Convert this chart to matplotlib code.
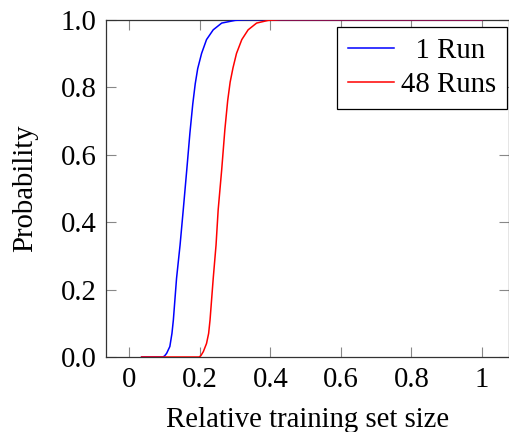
import matplotlib
matplotlib.use("Agg")
import matplotlib.pyplot as plt

plt.rcParams['font.family'] = ['Liberation Serif', 'DejaVu Serif']
FS = 20.7
plt.rcParams['font.size'] = FS

# Blue curve: 1 Run
x_one = [0.035, 0.095, 0.100, 0.106, 0.115, 0.121, 0.125, 0.134, 0.144, 0.153,
         0.163, 0.172, 0.180, 0.187, 0.194, 0.205, 0.219, 0.238, 0.262, 0.300, 0.33, 1.0]
p_one = [0.0, 0.0, 0.003, 0.011, 0.031, 0.07, 0.11, 0.233, 0.332, 0.436,
         0.555, 0.665, 0.75, 0.81, 0.855, 0.9, 0.941, 0.970, 0.990, 0.998, 1.0, 1.0]

# Red curve: 48 Runs
x_48 = [0.035, 0.198, 0.203, 0.210, 0.219, 0.225, 0.229, 0.238, 0.246, 0.252,
        0.262, 0.271, 0.279, 0.286, 0.294, 0.304, 0.319, 0.337, 0.361, 0.394, 0.43, 1.0]
p_48 = [0.0, 0.0, 0.004, 0.016, 0.04, 0.07, 0.11, 0.233, 0.332, 0.436,
        0.555, 0.674, 0.76, 0.815, 0.857, 0.9, 0.941, 0.970, 0.990, 0.998, 1.0, 1.0]

xticks = [0, 0.2, 0.4, 0.6, 0.8, 1]
xticklabels = ['0', '0.2', '0.4', '0.6', '0.8', '1']
yticks = [0.0, 0.2, 0.4, 0.6, 0.8, 1.0]
yticklabels = ['0.0', '0.2', '0.4', '0.6', '0.8', '1.0']

fig = plt.figure(figsize=(5.09, 4.32), dpi=100)
ax = fig.add_axes([106/509, 75/432, 1 - 106/509, (432 - 19.7 - 75) / 432])

ax.plot(x_one, p_one, color='#0000ff', lw=1.1, label='  1 Run', zorder=3)
ax.plot(x_48, p_48, color='#ff0000', lw=1.1, label='48 Runs', zorder=3)

ax.set_xlim(-0.066, 1.0766)
ax.set_ylim(0, 1)
ax.set_xticks(xticks)
ax.set_xticklabels(xticklabels)
ax.set_yticks(yticks)
ax.set_yticklabels(yticklabels)
ax.tick_params(direction='in', length=7, width=0.8, color='#888888',
               top=True, right=True, labelsize=FS, pad=7)
for s in ax.spines.values():
    s.set_color('#333333')
    s.set_linewidth(0.9)

ax.set_xlabel('Relative training set size', fontsize=FS, labelpad=10)
ax.set_ylabel('Probability', fontsize=FS, labelpad=16)

leg = ax.legend(loc='upper right', bbox_to_anchor=(507/509, 1 - 26.7/432),
                bbox_transform=fig.transFigure, frameon=True, fancybox=False,
                framealpha=1, edgecolor='black', fontsize=FS,
                handlelength=1.6, handletextpad=0.25, labelspacing=0.3,
                borderpad=0.38, borderaxespad=0)
leg.get_frame().set_linewidth(0.9)

fig.savefig('out.png', dpi=100)
